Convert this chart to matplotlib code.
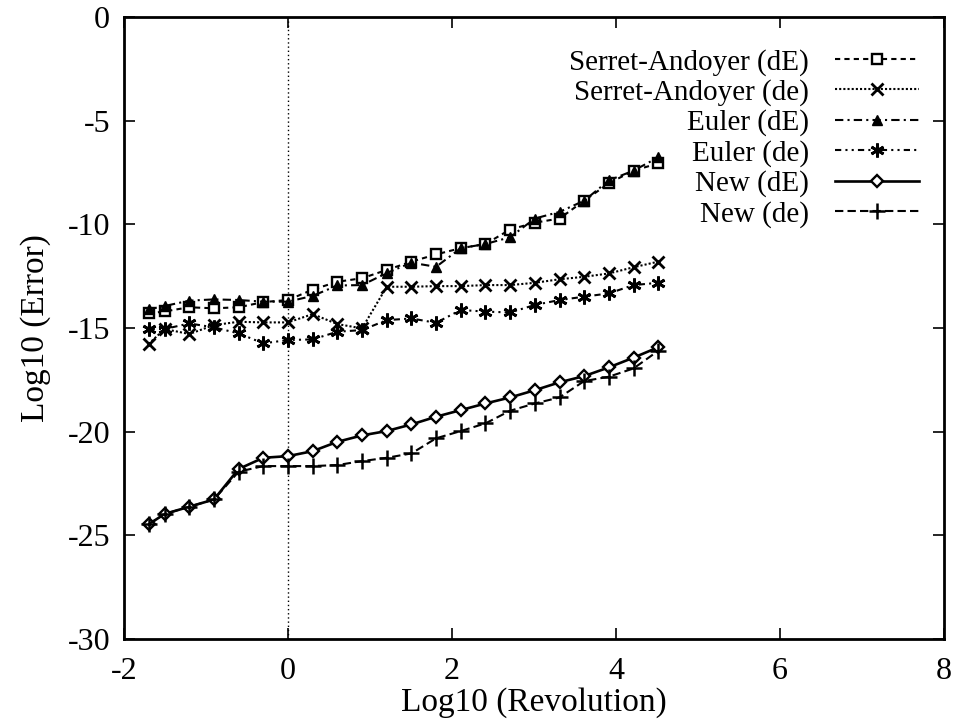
import numpy as np
import matplotlib
matplotlib.use("Agg")
import matplotlib.pyplot as plt
from matplotlib.legend_handler import HandlerLine2D

plt.rcParams['font.family'] = ['Liberation Serif', 'DejaVu Serif']

x = [-1.7, -1.505, -1.204, -0.903, -0.602, -0.301, 0.0, 0.301, 0.602, 0.903, 1.204,
     1.505, 1.806, 2.107, 2.408, 2.709, 3.010, 3.311, 3.612, 3.913, 4.214, 4.515]

sa_dE = [-14.3, -14.2, -14.0, -14.05, -14.0, -13.75, -13.65, -13.15, -12.77, -12.6, -12.2,
         -11.8, -11.45, -11.15, -10.95, -10.25, -9.92, -9.72, -8.86, -8.02, -7.41, -7.06]
sa_de = [-15.77, -15.05, -15.29, -14.86, -14.7, -14.73, -14.73, -14.33, -14.81, -15.02, -13.01,
         -13.01, -12.98, -12.98, -12.93, -12.93, -12.82, -12.65, -12.53, -12.37, -12.07, -11.8]
eu_dE = [-14.1, -13.94, -13.68, -13.62, -13.65, -13.73, -13.73, -13.45, -12.95, -12.93, -12.35,
         -11.85, -12.05, -11.15, -10.95, -10.62, -9.72, -9.4, -8.86, -7.88, -7.41, -6.77]
eu_de = [-15.05, -15.05, -14.78, -14.97, -15.26, -15.74, -15.58, -15.55, -15.18, -15.1, -14.62,
         -14.54, -14.75, -14.13, -14.21, -14.25, -13.89, -13.65, -13.49, -13.33, -12.93, -12.82]
new_dE = [-24.47, -23.97, -23.62, -23.27, -21.8, -21.26, -21.18, -20.94, -20.49, -20.18, -19.97,
          -19.65, -19.28, -18.96, -18.64, -18.35, -18.0, -17.62, -17.32, -16.9, -16.43, -15.93]
new_de = [-24.47, -23.97, -23.62, -23.27, -21.93, -21.66, -21.66, -21.66, -21.61, -21.42, -21.26,
          -21.05, -20.32, -19.97, -19.6, -18.99, -18.64, -18.35, -17.56, -17.35, -16.95, -16.1]

labels = ["Serret-Andoyer (dE)", "Serret-Andoyer (de)", "Euler (dE)",
          "Euler (de)", "New (dE)", "New (de)"]
xticks = [-2, 0, 2, 4, 6, 8]
yticks = [0, -5, -10, -15, -20, -25, -30]

fig = plt.figure(figsize=(9.58, 7.26), dpi=100)
ax = fig.add_axes([124/958, 1 - 639/726, (944-124)/958, (639-17)/726])

lw = 1.5
ax.axvline(0, color='black', lw=1.0, ls=(0, (1, 2)))

ax.plot(x, sa_dE, color='black', lw=lw, ls=(0, (2.5, 2)), marker='s', ms=7.5,
        mfc='white', mec='black', mew=1.7, label=labels[0])
ax.plot(x, sa_de, color='black', lw=lw, ls=(0, (1, 1)), marker='x', ms=9,
        mew=2.0, label=labels[1])
ax.plot(x, eu_dE, color='black', lw=lw, ls=(0, (4, 2, 1, 2)), marker='^', ms=6.5,
        mfc='black', mec='black', label=labels[2])
ax.plot(x, eu_de, color='black', lw=lw, ls=(0, (3, 2, 1, 2, 1, 2)), marker=(6, 2, 0), ms=10,
        mew=2.0, label=labels[3])
ax.plot(x, new_dE, color='black', lw=1.9, ls='-', marker='D', ms=6,
        mfc='white', mec='black', mew=1.7, label=labels[4])
ax.plot(x, new_de, color='black', lw=lw, ls=(0, (4, 2)), marker='+', ms=11,
        mew=1.8, label=labels[5])

ax.set_xlim(-2, 8)
ax.set_ylim(-30, 0)
ax.set_xticks(xticks)
ax.set_yticks(yticks)
ax.set_xticklabels([str(t) for t in xticks])
ax.set_yticklabels([str(t) for t in yticks])
ax.tick_params(direction='in', length=8, width=1.2, top=True, right=True,
               labelsize=23)
ax.tick_params(axis='x', pad=13)
ax.tick_params(axis='y', pad=10)
for s in ax.spines.values():
    s.set_linewidth(2.0)

ax.set_xlabel("Log10 (Revolution)", fontsize=24, labelpad=1)
ax.set_ylabel("Log10 (Error)", fontsize=24, labelpad=12)


class LeftMarkerHandler(HandlerLine2D):
    def get_xdata(self, legend, xdescent, ydescent, width, height, fontsize):
        xdata = [-xdescent, -xdescent + width]
        xdata_marker = [-xdescent + 0.2 * width]
        return xdata, xdata_marker


handles = ax.get_lines()[1:]
ax.legend(handles=handles, labels=labels, loc='upper right',
          bbox_to_anchor=(0.995, 0.982), frameon=False, fontsize=21,
          markerfirst=False, handlelength=2.9, handletextpad=0.9,
          labelspacing=0.12, borderpad=0.2,
          handler_map={h: LeftMarkerHandler(numpoints=1) for h in handles})

fig.savefig("out.png", dpi=100)
